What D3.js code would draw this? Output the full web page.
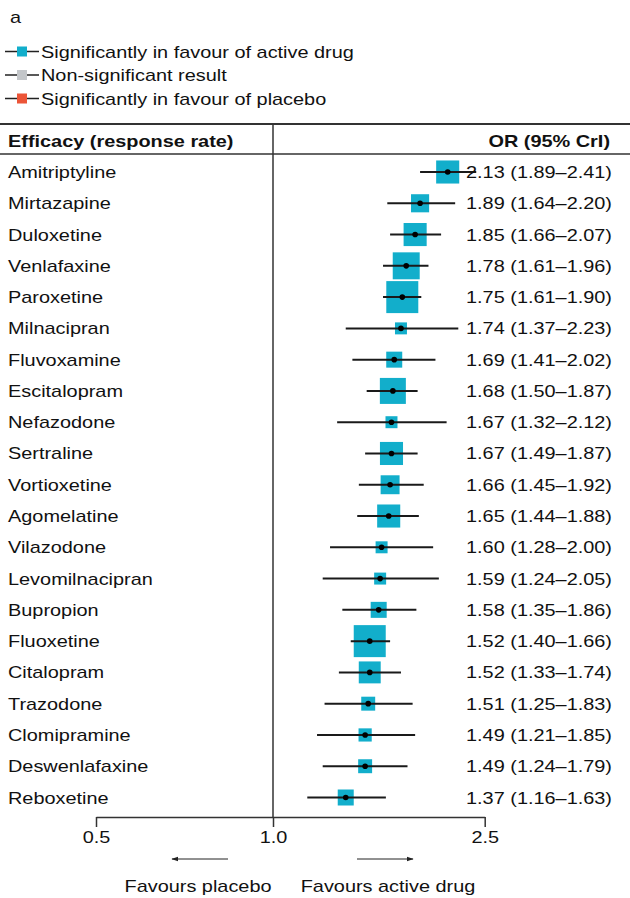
<!DOCTYPE html>
<html>
<head>
<meta charset="utf-8">
<script src="https://cdn.jsdelivr.net/npm/d3@7"></script>
<style>
  html, body { margin: 0; padding: 0; background: #fff; }
  svg { display: block; }
  text { font-family: "Liberation Sans", Arial, Helvetica, sans-serif; fill: #111; }
</style>
</head>
<body>
<svg id="chart" width="630" height="898"></svg>
<script>
// Antidepressants vs placebo: odds ratio of response with 95% credible interval
const drugs = ["Amitriptyline", "Mirtazapine", "Duloxetine", "Venlafaxine", "Paroxetine",
  "Milnacipran", "Fluvoxamine", "Escitalopram", "Nefazodone", "Sertraline", "Vortioxetine",
  "Agomelatine", "Vilazodone", "Levomilnacipran", "Bupropion", "Fluoxetine", "Citalopram",
  "Trazodone", "Clomipramine", "Deswenlafaxine", "Reboxetine"];
const or    = [2.13, 1.89, 1.85, 1.78, 1.75, 1.74, 1.69, 1.68, 1.67, 1.67, 1.66, 1.65, 1.60, 1.59, 1.58, 1.52, 1.52, 1.51, 1.49, 1.49, 1.37];
const lower = [1.89, 1.64, 1.66, 1.61, 1.61, 1.37, 1.41, 1.50, 1.32, 1.49, 1.45, 1.44, 1.28, 1.24, 1.35, 1.40, 1.33, 1.25, 1.21, 1.24, 1.16];
const upper = [2.41, 2.20, 2.07, 1.96, 1.90, 2.23, 2.02, 1.87, 2.12, 1.87, 1.92, 1.88, 2.00, 2.05, 1.86, 1.66, 1.74, 1.83, 1.85, 1.79, 1.63];
// relative weight of each estimate (box area)
const weight = [52, 32, 52, 71, 100, 14, 25, 66, 14, 52, 35, 52, 14, 14, 25, 100, 47, 19, 17, 19, 25];
const axisTicks = [0.5, 1.0, 2.5];
const legendLabels = ["Significantly in favour of active drug", "Non-significant result", "Significantly in favour of placebo"];

const COL_SIG = "#12AECB", COL_NS = "#C3C6C9", COL_PLA = "#EC5538";
const legendColors = [COL_SIG, COL_NS, COL_PLA];
const FS = 17, SX = 1.17; // font size and horizontal stretch of the type

const rows = drugs.map((d, i) => ({ drug: d, or: or[i], lo: lower[i], hi: upper[i], w: weight[i] }));

const svg = d3.select("#chart");

function label(g, x, y, str, opts = {}) {
  return g.append("text")
    .attr("transform", `translate(${x},${y}) scale(${SX},1)`)
    .attr("font-size", opts.size || FS)
    .attr("font-weight", opts.bold ? "bold" : null)
    .attr("text-anchor", opts.anchor || "start")
    .text(str);
}

// Panel letter and legend
label(svg, 10, 23, "a");
const leg = svg.append("g").selectAll("g").data(legendLabels).join("g")
  .attr("transform", (d, i) => `translate(0,${51.5 + i * 23.5})`);
leg.append("line").attr("x1", 5).attr("x2", 39).attr("stroke", "#222").attr("stroke-width", 1.6);
leg.append("rect").attr("x", 17).attr("y", -5).attr("width", 10).attr("height", 10)
  .attr("fill", (d, i) => legendColors[i]);
leg.each(function (d) { label(d3.select(this), 41, 6, d); });

// Scales
const x = d3.scaleLog().domain([0.5, 1, 2.5]).range([96, 273, 484.7]);
const y = d3.scalePoint().domain(drugs).range([172, 797.5]);
const side = d3.scaleSqrt().domain([0, 100]).range([0, 32]);

// Table frame
const frame = svg.append("g").attr("stroke", "#333").attr("fill", "none");
frame.append("line").attr("x1", 0).attr("x2", 630).attr("y1", 124).attr("y2", 124).attr("stroke-width", 2);
frame.append("line").attr("x1", 0).attr("x2", 630).attr("y1", 154).attr("y2", 154).attr("stroke-width", 1.5);
frame.append("line").attr("x1", x(1)).attr("x2", x(1)).attr("y1", 124).attr("y2", 817).attr("stroke-width", 1.5);

// Header
label(svg, 8, 147, "Efficacy (response rate)", { bold: true });
label(svg, 610, 147, "OR (95% CrI)", { bold: true, anchor: "end" });

// Rows
const fmt = d3.format(".2f");
const row = svg.append("g").selectAll("g").data(rows).join("g")
  .attr("transform", d => `translate(0,${y(d.drug)})`);

row.each(function (d) { label(d3.select(this), 8, 6, d.drug); });

const colorOf = d => d.lo > 1 ? COL_SIG : (d.hi < 1 ? COL_PLA : COL_NS);
row.append("rect")
  .attr("x", d => x(d.or) - side(d.w) / 2)
  .attr("y", d => -side(d.w) / 2)
  .attr("width", d => side(d.w))
  .attr("height", d => side(d.w))
  .attr("fill", colorOf);
row.append("line")
  .attr("x1", d => x(d.lo)).attr("x2", d => x(d.hi))
  .attr("stroke", "#1a1a1a").attr("stroke-width", 2);
row.append("circle")
  .attr("cx", d => x(d.or)).attr("r", 2.8).attr("fill", "#000");
row.each(function (d) {
  label(d3.select(this), 612, 6, `${fmt(d.or)} (${fmt(d.lo)}\u2013${fmt(d.hi)})`, { anchor: "end" });
});

// Axis
const axis = svg.append("g").attr("transform", "translate(0,817)")
  .call(d3.axisBottom(x).tickValues(axisTicks).tickFormat(d3.format(".1f"))
    .tickSize(10).tickSizeOuter(0).tickPadding(4));
axis.select(".domain").attr("stroke", "#333").attr("stroke-width", 1.5);
axis.selectAll(".tick line").attr("stroke", "#333").attr("stroke-width", 1.5);
axis.selectAll(".tick text")
  .attr("font-size", FS).attr("fill", "#111")
  .attr("font-family", "Liberation Sans, Arial, Helvetica, sans-serif")
  .attr("transform", `scale(${SX},1)`);

// Direction arrows
const defs = svg.append("defs");
defs.append("marker").attr("id", "arr").attr("viewBox", "0 0 10 10")
  .attr("refX", 9).attr("refY", 5).attr("markerWidth", 7).attr("markerHeight", 7)
  .attr("orient", "auto-start-reverse")
  .append("path").attr("d", "M0,1.5L10,5L0,8.5Z").attr("fill", "#222");
svg.append("line").attr("x1", 228).attr("x2", 172).attr("y1", 859).attr("y2", 859)
  .attr("stroke", "#222").attr("stroke-width", 1).attr("marker-end", "url(#arr)");
svg.append("line").attr("x1", 357).attr("x2", 413).attr("y1", 859).attr("y2", 859)
  .attr("stroke", "#222").attr("stroke-width", 1).attr("marker-end", "url(#arr)");
label(svg, 198, 892, "Favours placebo", { anchor: "middle" });
label(svg, 388, 892, "Favours active drug", { anchor: "middle" });
</script>
</body>
</html>
